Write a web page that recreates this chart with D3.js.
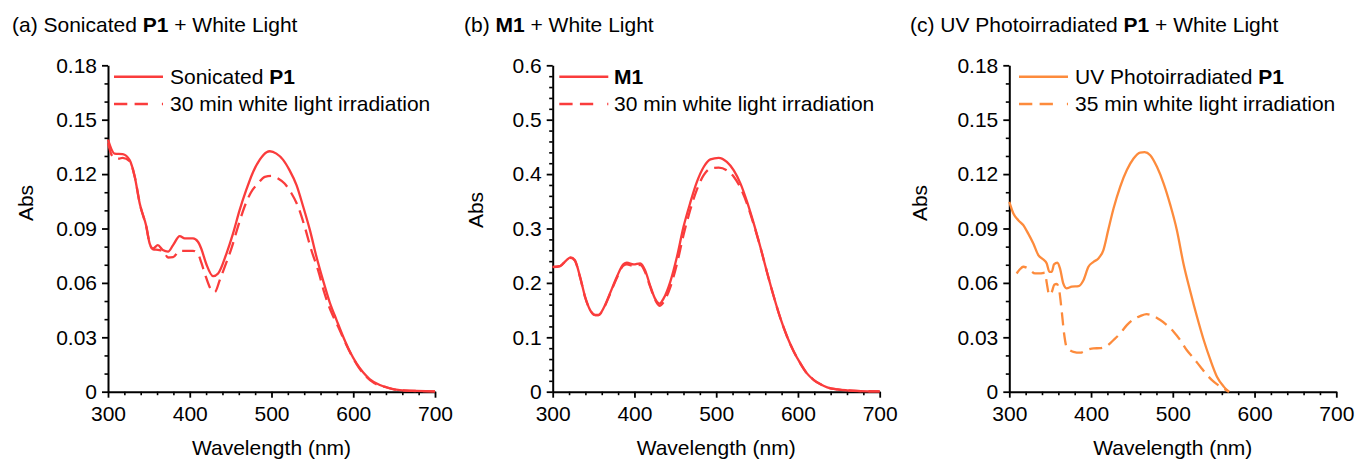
<!DOCTYPE html>
<html><head><meta charset="utf-8">
<script src="https://cdn.jsdelivr.net/npm/d3@7"></script>
<style>
html,body{margin:0;padding:0;background:#fff;}
svg text{font-family:"Liberation Sans",Arial,sans-serif;fill:#000;}
</style></head>
<body>
<svg id="chart" width="1356" height="460"></svg>
<script>
// ---------- DATA ----------
const panelTitles = [
  ["(a) Sonicated ", "P1", " + White Light"],
  ["(b) ", "M1", " + White Light"],
  ["(c) UV Photoirradiated ", "P1", " + White Light"]
];
const legendSolid = [["Sonicated ", "P1"], ["", "M1"], ["UV Photoirradiated ", "P1"]];
const legendDashed = ["30 min white light irradiation", "30 min white light irradiation", "35 min white light irradiation"];
const xTicks = [300, 400, 500, 600, 700];
const yTicksAC = [0, 0.03, 0.06, 0.09, 0.12, 0.15, 0.18];
const yTicksB = [0, 0.1, 0.2, 0.3, 0.4, 0.5, 0.6];

// (a) Sonicated P1
const aSolidWl  = [300,308,318,326.5,332.7,338.8,347,351,355,361,367,373.5,379.6,387.7,393.9,404,410,414,420,428.6,434.7,444.9,453,461,469,477.5,485.7,494,498,506,514,522,530.6,538.8,547,555,563,571,579.6,587.7,596,604,612,620,632.5,645,657,677.5,698,700];
const aSolidAbs = [0.139,0.1313,0.131,0.1277,0.1185,0.1038,0.0909,0.0817,0.079,0.0808,0.0781,0.0772,0.0808,0.0858,0.0845,0.0845,0.0827,0.079,0.0707,0.0637,0.0652,0.0762,0.0873,0.1001,0.1111,0.1212,0.128,0.1321,0.1326,0.1313,0.128,0.1222,0.1139,0.102,0.0891,0.0744,0.0615,0.0496,0.0395,0.0303,0.022,0.0156,0.0107,0.007,0.0037,0.0018,0.0009,0.0004,0.0002,0.0002];
const aDashWl  = [300,304,308,313,318,326.5,333,339,347,351,355,361,367,373.5,379.6,387.7,394,404,410,414.5,418.5,426.6,430.6,436.7,442.9,451,459,467,475,483.7,491.8,500,508,516,524,532.6,540.6,548.8,557,565,573,581.6,589.7,597.8,606,614,626,638,655,698,700];
const aDashAbs = [0.137,0.131,0.129,0.1285,0.129,0.1272,0.118,0.1035,0.0905,0.0815,0.0785,0.0782,0.0778,0.074,0.0742,0.0777,0.0777,0.0777,0.076,0.0707,0.065,0.056,0.055,0.0615,0.069,0.079,0.091,0.102,0.110,0.115,0.1185,0.119,0.1176,0.1148,0.1097,0.102,0.091,0.078,0.067,0.054,0.044,0.0358,0.0276,0.0202,0.0138,0.0092,0.0046,0.0028,0.0009,0.0002,0.0002];

// (b) M1
const bSolidWl  = [300,309,317,322,327,333.5,339.6,345.8,352,356,362,370,378.4,386.6,390.7,399,407,413,419,425,430.7,435.7,443.8,452,460,468,476.5,484.7,492.9,503,513,521.5,529.6,537.8,546,554,562,570.5,578.6,586.8,595,603,611,619.5,627.7,635.8,648,660,676.7,700];
const bSolidAbs = [0.2296,0.231,0.242,0.247,0.242,0.211,0.1745,0.150,0.1408,0.1408,0.153,0.1806,0.211,0.2345,0.237,0.234,0.236,0.2235,0.196,0.1715,0.162,0.1715,0.202,0.248,0.303,0.346,0.386,0.413,0.427,0.430,0.4225,0.407,0.383,0.349,0.309,0.266,0.2205,0.1745,0.1347,0.101,0.0735,0.052,0.0337,0.0214,0.0135,0.008,0.0043,0.0025,0.0012,0.0006];
const bDashWl  = [300,309,317,322,327,333.5,339.6,345.8,352,356,362,370,378.4,386.6,390.7,399,407,413,419,425,430.7,435.7,443.8,452,460,468,476.5,484.7,492.9,503,513,521.5,529.6,537.8,546,554,562,570.5,578.6,586.8,595,603,611,619.5,627.7,635.8,648,660,676.7,700];
const bDashAbs  = [0.229,0.231,0.242,0.246,0.241,0.21,0.174,0.150,0.141,0.141,0.152,0.179,0.209,0.232,0.234,0.231,0.233,0.22,0.194,0.170,0.158,0.165,0.192,0.235,0.288,0.333,0.372,0.398,0.410,0.412,0.407,0.395,0.375,0.345,0.307,0.266,0.2205,0.1745,0.1347,0.101,0.0735,0.052,0.0337,0.0214,0.0135,0.008,0.0043,0.0025,0.0012,0.0006];

// (c) UV photoirradiated P1
const cSolidWl  = [300,305,311,317,323,329.4,335.5,341.7,345.8,349,352,354.7,358.8,362,366,370,376.4,384.6,390.7,396.8,403,409,415,421,427.5,435.6,443.8,452,460,465.5,472.4,480.6,488.8,497,505,513,521.5,529.6,537.8,546,554,562.3,568.4];
const cSolidAbs = [0.1047,0.0983,0.0946,0.0919,0.0873,0.0817,0.0753,0.0729,0.0707,0.0661,0.0661,0.0702,0.0711,0.068,0.0597,0.057,0.0579,0.0582,0.0615,0.0689,0.0716,0.0735,0.078,0.0891,0.101,0.113,0.1222,0.1286,0.1319,0.1321,0.1304,0.124,0.1148,0.1029,0.0891,0.0707,0.0551,0.0413,0.0285,0.0175,0.0083,0.0028,0];
const cDashWl  = [309,313,317,323,331.5,337.6,343.7,345.8,349,352,355,358,361,364,367,370,378.4,386.6,394.8,403,411,419.3,427.5,435.6,443.8,452,460,468,476.5,484.7,492.9,501,509,517,525.5,533.7,541.9,550,558.2,566.4,569];
const cDashAbs = [0.0652,0.0675,0.0689,0.068,0.0652,0.0652,0.0656,0.06,0.0533,0.055,0.059,0.0595,0.056,0.045,0.0321,0.0248,0.022,0.0215,0.023,0.0239,0.024,0.0252,0.0285,0.0321,0.0367,0.0399,0.0417,0.0428,0.0417,0.0395,0.0367,0.0331,0.0285,0.023,0.0184,0.0138,0.0092,0.0055,0.0028,0.0006,0];

const colorRed = "#fa3c3c";
const colorOrange = "#fd8b3c";

// ---------- LAYOUT ----------
const svg = d3.select("#chart");
const plotTop = 65.3, plotBottom = 391.7, plotW = 327;
const FS = 21;

const panels = [
  {left:108, yMax:0.18, yTicks:yTicksAC, yMinor:0.01, fmt:d=>d===0?"0":d3.format(".2f")(d), color:colorRed,
   solid:[aSolidWl,aSolidAbs], dash:[aDashWl,aDashAbs], titleX:12, absX:33, absY:203, legX:114, legTextX:170},
  {left:552.7, yMax:0.6, yTicks:yTicksB, yMinor:0.02, fmt:d=>d===0?"0":d3.format(".1f")(d), color:colorRed,
   solid:[bSolidWl,bSolidAbs], dash:[bDashWl,bDashAbs], titleX:464, absX:483, absY:210, legX:559.3, legTextX:614},
  {left:1009.3, yMax:0.18, yTicks:yTicksAC, yMinor:0.01, fmt:d=>d===0?"0":d3.format(".2f")(d), color:colorOrange,
   solid:[cSolidWl,cSolidAbs], dash:[cDashWl,cDashAbs], titleX:910, absX:927, absY:203, legX:1019, legTextX:1075}
];

panels.forEach((p,i)=>{
  const x = d3.scaleLinear().domain([300,700]).range([p.left, p.left+plotW]);
  const y = d3.scaleLinear().domain([0,p.yMax]).range([plotBottom, plotTop]);

  // title
  const t = svg.append("text").attr("x", p.titleX).attr("y", 31.5).attr("font-size", FS);
  t.append("tspan").text(panelTitles[i][0]);
  t.append("tspan").attr("font-weight","bold").text(panelTitles[i][1]);
  t.append("tspan").text(panelTitles[i][2]);

  // minor ticks
  const xMinor = d3.range(300, 701, 20).filter(v=>v%100!==0);
  const yMinorVals = d3.range(0, p.yMax+1e-9, p.yMinor).filter(v=>!p.yTicks.some(t=>Math.abs(t-v)<1e-9));
  svg.append("g").attr("transform",`translate(0,${plotBottom})`)
    .call(d3.axisBottom(x).tickValues(xMinor).tickSize(3.5).tickFormat(""))
    .call(g=>g.select(".domain").remove())
    .selectAll("line").attr("stroke","#000").attr("stroke-width",1.6);
  svg.append("g").attr("transform",`translate(${p.left},0)`)
    .call(d3.axisLeft(y).tickValues(yMinorVals).tickSize(3.5).tickFormat(""))
    .call(g=>g.select(".domain").remove())
    .selectAll("line").attr("stroke","#000").attr("stroke-width",1.6);

  // major axes
  const gx = svg.append("g").attr("transform",`translate(0,${plotBottom})`)
    .call(d3.axisBottom(x).tickValues(xTicks).tickSize(6).tickPadding(8).tickSizeOuter(0).tickFormat(d3.format("d")));
  const gy = svg.append("g").attr("transform",`translate(${p.left},0)`)
    .call(d3.axisLeft(y).tickValues(p.yTicks).tickSize(6).tickPadding(5).tickSizeOuter(0).tickFormat(p.fmt));
  [gx,gy].forEach(g=>{
    g.attr("font-family",null).attr("font-size",null);
    g.select(".domain").attr("stroke","#000").attr("stroke-width",2);
    g.selectAll(".tick line").attr("stroke","#000").attr("stroke-width",1.8);
    g.selectAll(".tick text").attr("font-size",FS).attr("fill","#000");
  });

  // axis titles
  svg.append("text").attr("x", p.left+plotW/2).attr("y", 455).attr("text-anchor","middle")
    .attr("font-size",FS).text("Wavelength (nm)");
  svg.append("text").attr("transform",`translate(${p.absX},${p.absY}) rotate(-90)`).attr("text-anchor","middle")
    .attr("font-size",FS).text("Abs");

  // curves
  const line = d3.line().x(d=>x(d[0])).y(d=>y(d[1])).curve(d3.curveMonotoneX);
  const solidData = d3.zip(p.solid[0], p.solid[1]);
  const dashData = d3.zip(p.dash[0], p.dash[1]);
  svg.append("path").datum(dashData).attr("d", line).attr("fill","none")
    .attr("stroke", p.color).attr("stroke-width",2.3).attr("stroke-dasharray","13,7");
  svg.append("path").datum(solidData).attr("d", line).attr("fill","none")
    .attr("stroke", p.color).attr("stroke-width",2.3);

  // legend
  const lw = 49;
  svg.append("line").attr("x1",p.legX).attr("x2",p.legX+lw).attr("y1",76.7).attr("y2",76.7)
    .attr("stroke",p.color).attr("stroke-width",2.5);
  svg.append("line").attr("x1",p.legX).attr("x2",p.legX+lw).attr("y1",104).attr("y2",104)
    .attr("stroke",p.color).attr("stroke-width",2.5).attr("stroke-dasharray","13.3,7.3,13.3,14,2,100");
  const l1 = svg.append("text").attr("x",p.legTextX).attr("y",84).attr("font-size",FS);
  l1.append("tspan").text(legendSolid[i][0]);
  l1.append("tspan").attr("font-weight","bold").text(legendSolid[i][1]);
  svg.append("text").attr("x",p.legTextX).attr("y",111).attr("font-size",FS).text(legendDashed[i]);
});
</script>
</body></html>
